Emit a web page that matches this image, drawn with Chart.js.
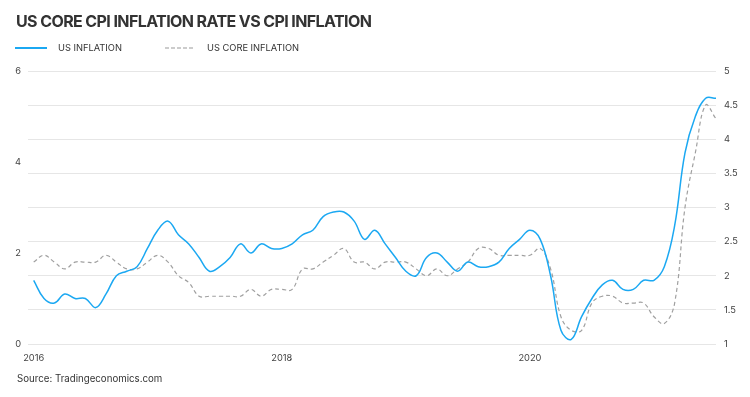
<!DOCTYPE html>
<html>
<head>
<meta charset="utf-8">
<script src="https://cdn.jsdelivr.net/npm/chart.js@4.4.0/dist/chart.umd.min.js"></script>
<style>
  body { margin: 0; background: #fff; font-family: Inter, "Open Sans", sans-serif; }
  #wrap { position: relative; width: 750px; height: 397px; overflow: hidden; }
  #chart { position: absolute; left: 0; top: 0; }
  .title { position: absolute; left: 16px; top: 12px; font-size: 16px; line-height: 19px; font-weight: 700; color: #333; letter-spacing: -0.6px; white-space: nowrap; }
  .leg { position: absolute; top: 41px; height: 14px; font-size: 9.3px; line-height: 14px; color: #333; white-space: nowrap; }
  .leg svg { position: absolute; top: 0; left: 0; }
  .source { position: absolute; left: 17px; top: 373px; font-size: 9.7px; color: #333; }
</style>
</head>
<body>
<div id="wrap">
  <canvas id="chart" width="750" height="397"></canvas>
  <div class="title">US CORE CPI INFLATION RATE VS CPI INFLATION</div>
  <div class="leg" style="left:15px">
    <svg width="34" height="14"><line x1="0" y1="7" x2="32" y2="7" stroke="#1ba8f2" stroke-width="2"/></svg>
    <span style="margin-left:43px">US INFLATION</span>
  </div>
  <div class="leg" style="left:165px">
    <svg width="34" height="14"><line x1="0" y1="7" x2="30" y2="7" stroke="#9a9a9a" stroke-width="1.2" stroke-dasharray="4 2"/></svg>
    <span style="margin-left:42px">US CORE INFLATION</span>
  </div>
  <div class="source">Source: Tradingeconomics.com</div>
</div>

<script>
    // monthly, Jan 2016 - Jul 2021
    const startYear = 2016;
    const months = [];
    for (let i = 0; i < 67; i++) {
        const y = startYear + Math.floor(i / 12);
        const m = (i % 12) + 1;
        months.push(y + '-' + (m < 10 ? '0' + m : m));
    }

    const usInflation = [
        1.4, 1.0, 0.9, 1.1, 1.0, 1.0, 0.8, 1.1, 1.5, 1.6, 1.7, 2.1,
        2.5, 2.7, 2.4, 2.2, 1.9, 1.6, 1.7, 1.9, 2.2, 2.0, 2.2, 2.1,
        2.1, 2.2, 2.4, 2.5, 2.8, 2.9, 2.9, 2.7, 2.3, 2.5, 2.2, 1.9,
        1.6, 1.5, 1.9, 2.0, 1.8, 1.6, 1.8, 1.7, 1.7, 1.8, 2.1, 2.3,
        2.5, 2.3, 1.5, 0.3, 0.1, 0.6, 1.0, 1.3, 1.4, 1.2, 1.2, 1.4,
        1.4, 1.7, 2.6, 4.2, 5.0, 5.4, 5.4
    ];

    const usCoreInflation = [
        2.2, 2.3, 2.2, 2.1, 2.2, 2.2, 2.2, 2.3, 2.2, 2.1, 2.1, 2.2,
        2.3, 2.2, 2.0, 1.9, 1.7, 1.7, 1.7, 1.7, 1.7, 1.8, 1.7, 1.8,
        1.8, 1.8, 2.1, 2.1, 2.2, 2.3, 2.4, 2.2, 2.2, 2.1, 2.2, 2.2,
        2.2, 2.1, 2.0, 2.1, 2.0, 2.1, 2.2, 2.4, 2.4, 2.3, 2.3, 2.3,
        2.3, 2.4, 2.1, 1.4, 1.2, 1.2, 1.6, 1.7, 1.7, 1.6, 1.6, 1.6,
        1.4, 1.3, 1.6, 3.0, 3.8, 4.5, 4.3
    ];

    const xTicks = [0, 24, 48];           // 2016, 2018, 2020
    const leftTicks = [0, 2, 4, 6];

    const toPoints = arr => arr.map((v, i) => ({ x: i, y: v }));

    const tickFont = { family: 'Inter, "Open Sans", sans-serif', size: 9.3 };

    new Chart(document.getElementById('chart').getContext('2d'), {
        type: 'line',
        data: {
            datasets: [
                {
                    label: 'US INFLATION',
                    data: toPoints(usInflation),
                    borderColor: '#1ba8f2',
                    borderWidth: 1.5,
                    pointRadius: 0,
                    tension: 0.4,
                    yAxisID: 'yLeft'
                },
                {
                    label: 'US CORE INFLATION',
                    data: toPoints(usCoreInflation),
                    borderColor: '#a0a0a0',
                    borderWidth: 1.2,
                    borderDash: [4, 3],
                    pointRadius: 0,
                    tension: 0.4,
                    yAxisID: 'yRight'
                }
            ]
        },
        options: {
            responsive: false,
            animation: false,
            layout: { padding: { top: 71, left: 0, right: 0, bottom: 0 } },
            plugins: {
                legend: { display: false },
                tooltip: { enabled: false }
            },
            scales: {
                x: {
                    type: 'linear',
                    min: -0.55,
                    max: 66,
                    grid: { display: false, drawTicks: false },
                    border: { display: false },
                    afterBuildTicks: s => { s.ticks = xTicks.map(v => ({ value: v })); },
                    afterFit: s => { s.height = 53; },
                    ticks: {
                        padding: 9,
                        maxRotation: 0,
                        autoSkip: false,
                        color: '#444',
                        font: tickFont,
                        callback: v => months[v].slice(0, 4)
                    }
                },
                yLeft: {
                    position: 'left',
                    min: 0,
                    max: 6,
                    grid: { display: false, drawTicks: false },
                    border: { display: false },
                    afterBuildTicks: s => { s.ticks = leftTicks.map(v => ({ value: v })); },
                    afterFit: s => { s.width = 28; },
                    ticks: { padding: 7, color: '#444', font: tickFont }
                },
                yRight: {
                    position: 'right',
                    min: 1,
                    max: 5,
                    grid: { color: '#e6e6e6', drawTicks: false, lineWidth: 1 },
                    border: { display: false },
                    afterFit: s => { s.width = 34; },
                    ticks: { stepSize: 0.5, padding: 8, color: '#444', font: tickFont, callback: v => String(v) }
                }
            }
        }
    });
</script>
</body>
</html>
